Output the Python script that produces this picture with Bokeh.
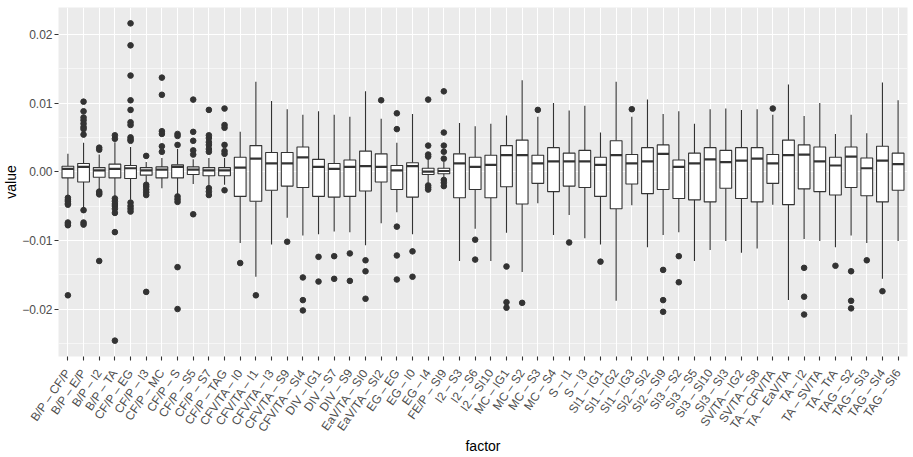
import math
from bokeh.plotting import figure
from bokeh.models import Range1d, FixedTicker, ColumnDataSource
from bokeh.transform import dodge
from bokeh.embed import file_html
from bokeh.resources import INLINE

factors = [
    "B/P – CF/P", "B/P – E/P", "B/P – I2", "B/P – TA", "CF/P – EG", "CF/P – I3",
    "CF/P – MC", "CF/P – S", "CF/P – S5", "CF/P – S7", "CF/P – TAG", "CFV/TA – I0",
    "CFV/TA – I1", "CFV/TA – I3", "CFV/TA – S9", "CFV/TA – SI4", "DIV – IG1", "DIV – S7",
    "DIV – S9", "EaV/TA – SI0", "EaV/TA – SI2", "EG – EG", "EG – I0", "EG – I4",
    "FE/P – SI9", "I2 – S3", "I2 – S6", "I2 – SI10", "MC – IG1", "MC – S2", "MC – S3",
    "MC – S4", "S – I1", "S – I3", "SI1 – IG1", "SI1 – IG2", "SI1 – IG3", "SI2 – SI2",
    "SI2 – SI9", "SI3 – S2", "SI3 – S5", "SI3 – SI10", "SI3 – SI3", "SV/TA – IG2",
    "SV/TA – S8", "TA – CFV/TA", "TA – EaV/TA", "TA – I2", "TA – SV/TA", "TA – TrA",
    "TAG – S2", "TAG – SI3", "TAG – SI4", "TAG – SI6",
]

upper_whisker = [
    0.0026, 0.0042, 0.0025, 0.0043, 0.0036, 0.0014, 0.0020, 0.0033, 0.0018, 0.0020,
    0.0020, 0.0058, 0.0131, 0.0103, 0.0091, 0.0083, 0.0088, 0.0083, 0.0080, 0.0117,
    0.0077, 0.0042, 0.0084, 0.0018, 0.0014, 0.0071, 0.0066, 0.0070, 0.0082, 0.0133,
    0.0080, 0.0100, 0.0089, 0.0096, 0.0057, 0.0131, 0.0080, 0.0105, 0.0084, 0.0088,
    0.0070, 0.0091, 0.0092, 0.0090, 0.0091, 0.0083, 0.0127, 0.0081, 0.0100, 0.0055,
    0.0083, 0.0056, 0.0130, 0.0104,
]
q3 = [
    0.0008, 0.0012, 0.0006, 0.0011, 0.0009, 0.0006, 0.0007, 0.0010, 0.0007, 0.0006,
    0.0006, 0.0021, 0.0038, 0.0028, 0.0028, 0.0036, 0.0018, 0.0012, 0.0017, 0.0030,
    0.0026, 0.0009, 0.0013, 0.0005, 0.0005, 0.0026, 0.0021, 0.0024, 0.0038, 0.0046,
    0.0024, 0.0035, 0.0027, 0.0031, 0.0021, 0.0045, 0.0025, 0.0035, 0.0039, 0.0017,
    0.0027, 0.0035, 0.0031, 0.0035, 0.0035, 0.0025, 0.0046, 0.0039, 0.0036, 0.0021,
    0.0036, 0.0020, 0.0037, 0.0027,
]
median = [
    0.0004, 0.0007, 0.0002, 0.0004, 0.0005, 0.0002, 0.0003, 0.0007, 0.0003, 0.0002,
    0.0002, 0.0006, 0.0019, 0.0012, 0.0012, 0.0021, 0.0007, 0.0004, 0.0007, 0.0008,
    0.0007, 0.0002, 0.0008, 0.0000, 0.0001, 0.0012, 0.0007, 0.0010, 0.0024, 0.0024,
    0.0012, 0.0015, 0.0015, 0.0015, 0.0010, 0.0024, 0.0012, 0.0015, 0.0026, 0.0007,
    0.0012, 0.0018, 0.0014, 0.0016, 0.0019, 0.0012, 0.0024, 0.0025, 0.0015, 0.0009,
    0.0022, 0.0005, 0.0016, 0.0011,
]
q1 = [
    -0.0009, -0.0015, -0.0008, -0.0009, -0.0010, -0.0005, -0.0009, -0.0009, -0.0004, -0.0006,
    -0.0006, -0.0036, -0.0043, -0.0027, -0.0021, -0.0023, -0.0036, -0.0037, -0.0036, -0.0028,
    -0.0015, -0.0026, -0.0037, -0.0004, -0.0003, -0.0038, -0.0026, -0.0038, -0.0022, -0.0047,
    -0.0017, -0.0029, -0.0021, -0.0023, -0.0036, -0.0054, -0.0018, -0.0032, -0.0026, -0.0039,
    -0.0041, -0.0044, -0.0024, -0.0039, -0.0044, -0.0017, -0.0048, -0.0025, -0.0029, -0.0034,
    -0.0023, -0.0035, -0.0044, -0.0027,
]
lower_whisker = [
    -0.0036, -0.0053, -0.0026, -0.0036, -0.0041, -0.0016, -0.0024, -0.0033, -0.0018, -0.0022,
    -0.0019, -0.0104, -0.0153, -0.0106, -0.0067, -0.0093, -0.0091, -0.0087, -0.0088, -0.0107,
    -0.0075, -0.0059, -0.0091, -0.0016, -0.0009, -0.0130, -0.0083, -0.0130, -0.0089, -0.0146,
    -0.0046, -0.0092, -0.0063, -0.0097, -0.0106, -0.0188, -0.0049, -0.0110, -0.0092, -0.0088,
    -0.0130, -0.0114, -0.0101, -0.0118, -0.0112, -0.0048, -0.0187, -0.0098, -0.0101, -0.0110,
    -0.0093, -0.0104, -0.0156, -0.0101,
]
outliers = [
    [-0.0038, -0.0041, -0.0043, -0.0046, -0.0048, -0.0074, -0.0076, -0.0078, -0.0180],
    [0.0102, 0.0088, 0.0079, 0.0075, 0.0070, 0.0065, 0.0062, 0.0054, -0.0056, -0.0074, -0.0077],
    [0.0035, 0.0032, -0.0029, -0.0031, -0.0033, -0.0130],
    [0.0053, 0.0048, -0.0039, -0.0043, -0.0047, -0.0050, -0.0054, -0.0060, -0.0088, -0.0246],
    [0.0216, 0.0184, 0.0140, 0.0104, 0.0090, 0.0072, 0.0068, 0.0050, 0.0047, 0.0045,
     -0.0045, -0.0050, -0.0054, -0.0058],
    [0.0023, -0.0019, -0.0022, -0.0026, -0.0030, -0.0034, -0.0175],
    [0.0137, 0.0112, 0.0059, 0.0055, 0.0037, 0.0029],
    [0.0055, 0.0052, 0.0039, -0.0036, -0.0040, -0.0044, -0.0139, -0.0200],
    [0.0105, 0.0058, 0.0045, 0.0031, 0.0025, -0.0062],
    [0.0090, 0.0053, 0.0049, 0.0043, 0.0039, 0.0033, 0.0029, -0.0024, -0.0029, -0.0034],
    [0.0092, 0.0068, 0.0064, 0.0039, 0.0030, 0.0026, -0.0027],
    [-0.0133],
    [-0.0180],
    [],
    [-0.0102],
    [-0.0154, -0.0187, -0.0202],
    [-0.0124, -0.0160],
    [-0.0123, -0.0156],
    [-0.0119, -0.0159],
    [-0.0129, -0.0145, -0.0185],
    [0.0104],
    [0.0085, 0.0062, -0.0080, -0.0122, -0.0157],
    [-0.0116, -0.0153],
    [0.0105, 0.0038, 0.0025, 0.0022, -0.0020, -0.0023, -0.0026],
    [0.0117, 0.0057, 0.0038, 0.0029, 0.0019, -0.0012, -0.0016, -0.0021],
    [],
    [-0.0099, -0.0128],
    [],
    [-0.0138, -0.0190, -0.0198],
    [-0.0191],
    [0.0090],
    [],
    [-0.0103],
    [],
    [-0.0131],
    [],
    [0.0091],
    [],
    [-0.0143, -0.0187, -0.0204],
    [-0.0123, -0.0161],
    [],
    [],
    [],
    [],
    [],
    [0.0092],
    [],
    [-0.0140, -0.0182, -0.0208],
    [],
    [-0.0137],
    [-0.0145, -0.0188, -0.0199],
    [-0.0129],
    [-0.0174],
    [],
]

y_ticks = [-0.02, -0.01, 0.0, 0.01, 0.02]
y_tick_labels = ["−0.02", "−0.01", "0.00", "0.01", "0.02"]
y_minor = [-0.025, -0.015, -0.005, 0.005, 0.015]

pos = list(range(1, len(factors) + 1))
box_src = ColumnDataSource(dict(x=pos, q1=q1, q3=q3, med=median,
                                lo=lower_whisker, hi=upper_whisker))
ox, oy = [], []
for i, vals in enumerate(outliers):
    for v in vals:
        ox.append(pos[i])
        oy.append(v)
out_src = ColumnDataSource(dict(x=ox, y=oy))

all_vals = oy + lower_whisker + upper_whisker
ymin, ymax = min(all_vals), max(all_vals)
pad = (ymax - ymin) * 0.05

FONT = "Liberation Sans"
EDGE = "#333333"

p = figure(width=913, height=457, output_backend="svg", toolbar_location=None,
           x_range=Range1d(0.4, len(factors) + 0.6),
           y_range=Range1d(ymin - pad, ymax + pad),
           min_border_left=58, min_border_right=6, min_border_top=7, min_border_bottom=0,
           background_fill_color="#EBEBEB", border_fill_color="white")
p.outline_line_color = None

# grid
p.xaxis.ticker = FixedTicker(ticks=pos)
p.yaxis.ticker = FixedTicker(ticks=y_ticks, minor_ticks=y_minor)
p.xgrid.ticker = FixedTicker(ticks=pos)
p.ygrid.ticker = FixedTicker(ticks=y_ticks, minor_ticks=y_minor)
for g in (p.xgrid, p.ygrid):
    g.grid_line_color = "white"
    g.grid_line_width = 1.1
p.ygrid.minor_grid_line_color = "white"
p.ygrid.minor_grid_line_width = 0.55
p.xgrid.minor_grid_line_color = None

# whiskers
p.segment(x0="x", y0="q3", x1="x", y1="hi", source=box_src, line_color=EDGE, line_width=1.1)
p.segment(x0="x", y0="q1", x1="x", y1="lo", source=box_src, line_color=EDGE, line_width=1.1)
# boxes
p.vbar(x="x", width=0.75, top="q3", bottom="q1", source=box_src,
       fill_color="white", line_color=EDGE, line_width=1.1)
# medians
p.segment(x0=dodge("x", -0.375, range=p.x_range), y0="med",
          x1=dodge("x", 0.375, range=p.x_range), y1="med",
          source=box_src, line_color=EDGE, line_width=2.2)
# outliers
p.scatter(x="x", y="y", source=out_src, size=5.6, fill_color=EDGE, line_color=EDGE)

# axes
for ax in (p.xaxis, p.yaxis):
    ax.axis_line_color = None
    ax.major_tick_line_color = EDGE
    ax.major_tick_line_width = 1.1
    ax.major_tick_out = 4
    ax.major_tick_in = 0
    ax.minor_tick_line_color = None
    ax.major_label_text_font = FONT
    ax.major_label_text_font_size = "12px"
    ax.major_label_text_color = "#4D4D4D"
    ax.axis_label_text_font = FONT
    ax.axis_label_text_font_size = "14px"
    ax.axis_label_text_font_style = "normal"
    ax.axis_label_text_color = "black"

p.xaxis.major_label_overrides = {i: f for i, f in zip(pos, factors)}
p.xaxis.major_label_orientation = math.radians(55)
p.xaxis.major_label_standoff = 10
p.xaxis.axis_label = "factor"
p.xaxis.axis_label_standoff = -3

p.yaxis.major_label_overrides = {t: l for t, l in zip(y_ticks, y_tick_labels)}
p.yaxis.major_label_standoff = 2
p.yaxis.axis_label = "value"
p.yaxis.axis_label_standoff = 0

open("out.html", "w").write(file_html(p, INLINE))
